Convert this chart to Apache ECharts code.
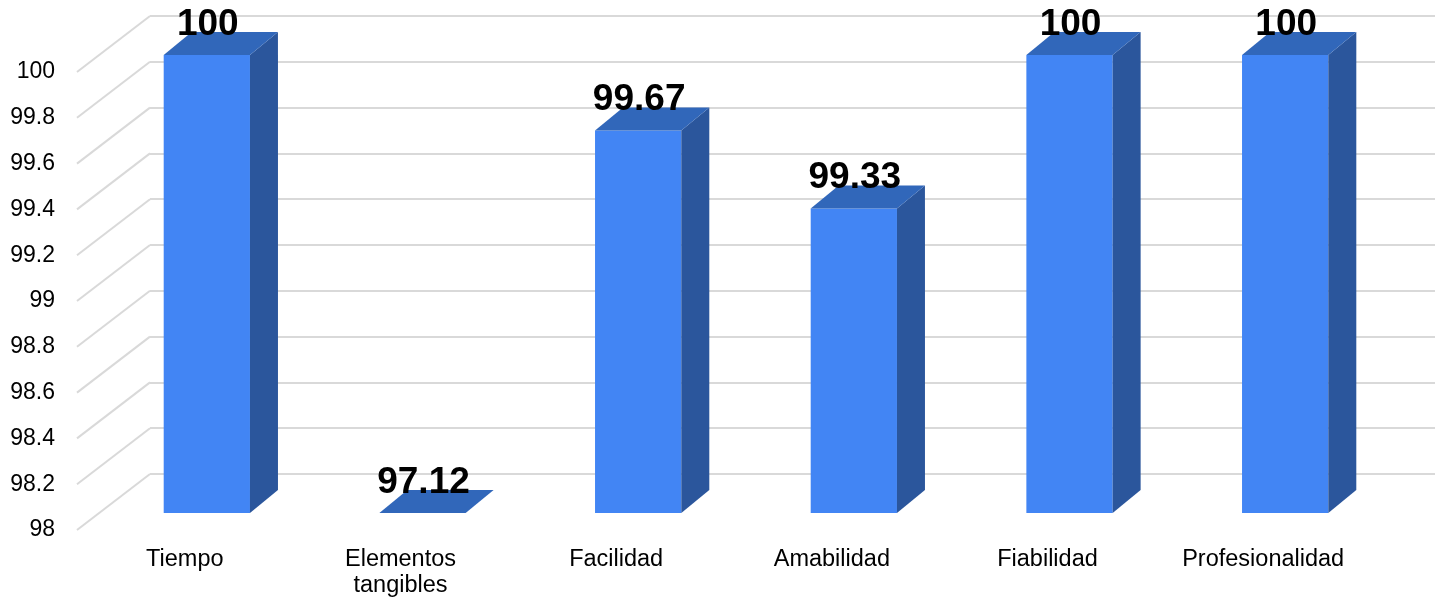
<!DOCTYPE html>
<html>
<head>
<meta charset="utf-8">
<script src="https://cdn.jsdelivr.net/npm/echarts@6/dist/echarts.min.js"></script>
<style>
  html, body { margin: 0; padding: 0; background: #fff; }
  #chart { width: 1435px; height: 599px; }
</style>
</head>
<body>
<div id="chart"></div>
<script>
// Survey dimensions and their scores (%)
const categories = ['Tiempo', 'Elementos\ntangibles', 'Facilidad', 'Amabilidad', 'Fiabilidad', 'Profesionalidad'];
const values = [100, 97.12, 99.67, 99.33, 100, 100];
// Value axis ticks
const yTicks = [98, 98.2, 98.4, 98.6, 98.8, 99, 99.2, 99.4, 99.6, 99.8, 100];
const yMin = 98, yMax = 100, yStep = 0.2;

// Pseudo-3D geometry (pixels)
const WALL_DX = 73, WALL_DY = -56;   // front plane -> back wall
const FACE_DX = 22, FACE_DY = -17;   // front plane -> bar front face
const DEPTH_DX = 28, DEPTH_DY = -23; // bar depth
const BAR_RATIO = 0.4;

const C_FRONT = '#4285F4', C_SIDE = '#2B569C', C_TOP = '#3167BA', C_GRID = '#D9D9D9';
const FONT = 'Liberation Sans, Arial, sans-serif';

const chart = echarts.init(document.getElementById('chart'));

function renderWall(params, api) {
  const v = api.value(0);
  const cs = params.coordSys;
  const p = api.coord([0, v]);
  return {
    type: 'line',
    shape: { x1: cs.x, y1: p[1], x2: cs.x + WALL_DX, y2: p[1] + WALL_DY },
    style: { stroke: C_GRID, lineWidth: 2 },
    z2: 0
  };
}

function renderBar(params, api) {
  const i = api.value(0);
  const v = api.value(1);
  const shown = Math.min(Math.max(v, yMin), yMax);
  const top = api.coord([i, shown]);
  const base = api.coord([i, yMin]);
  const w = api.size([1, 0])[0] * BAR_RATIO;
  const x0 = top[0] - w / 2 + FACE_DX;
  const x1 = x0 + w;
  const yt = top[1] + FACE_DY;
  const yb = base[1] + FACE_DY;
  const children = [];
  if (yb - yt > 0) {
    children.push({
      type: 'rect',
      shape: { x: x0, y: yt, width: w, height: yb - yt },
      style: { fill: C_FRONT }
    });
    children.push({
      type: 'polygon',
      shape: { points: [[x1, yt], [x1 + DEPTH_DX, yt + DEPTH_DY], [x1 + DEPTH_DX, yb + DEPTH_DY], [x1, yb]] },
      style: { fill: C_SIDE }
    });
  }
  children.push({
    type: 'polygon',
    shape: { points: [[x0, yt], [x0 + DEPTH_DX, yt + DEPTH_DY], [x1 + DEPTH_DX, yt + DEPTH_DY], [x1, yt]] },
    style: { fill: C_TOP }
  });
  children.push({
    type: 'text',
    x: (x0 + x1) / 2 + 1,
    y: yt - 12,
    style: {
      text: String(v),
      fill: '#000',
      font: 'bold 37px ' + FONT,
      align: 'center',
      verticalAlign: 'bottom'
    },
    z2: 10
  });
  return { type: 'group', children: children };
}

chart.setOption({
  animation: false,
  backgroundColor: '#fff',
  grid: [
    // back wall
    { left: 150, right: 0, top: 16, bottom: 125 },
    // front plane
    { left: 77, right: 64, top: 72, bottom: 68 }
  ],
  xAxis: [
    { gridIndex: 0, type: 'category', data: categories, show: false },
    {
      gridIndex: 1, type: 'category', data: categories,
      axisLine: { show: false }, axisTick: { show: false },
      axisLabel: { color: '#000', fontSize: 23.5, fontFamily: FONT, margin: 17, lineHeight: 26, interval: 0 }
    }
  ],
  yAxis: [
    {
      gridIndex: 0, type: 'value', min: yMin, max: yMax, interval: yStep,
      axisLine: { show: false }, axisTick: { show: false }, axisLabel: { show: false },
      splitLine: { show: true, lineStyle: { color: C_GRID, width: 2 } }
    },
    {
      gridIndex: 1, type: 'value', min: yMin, max: yMax, interval: yStep,
      axisLine: { show: false }, axisTick: { show: false }, splitLine: { show: false },
      axisLabel: { color: '#000', fontSize: 23, fontFamily: FONT, margin: 22 }
    }
  ],
  series: [
    {
      type: 'custom', xAxisIndex: 1, yAxisIndex: 1,
      renderItem: renderWall,
      data: yTicks.map(t => [t]),
      encode: { y: 0 },
      silent: true, z: 1
    },
    {
      type: 'custom', xAxisIndex: 1, yAxisIndex: 1,
      renderItem: renderBar,
      data: values.map((v, i) => [i, v]),
      encode: { x: 0, y: 1 },
      clip: false, z: 5
    }
  ]
});
</script>
</body>
</html>
